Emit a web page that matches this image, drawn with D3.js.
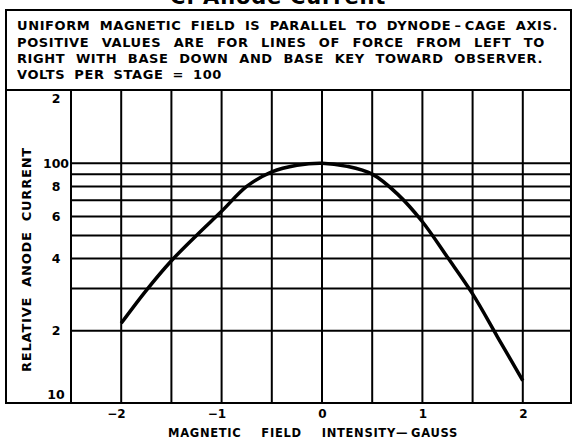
<!DOCTYPE html>
<html>
<head>
<meta charset="utf-8">
<script src="https://cdn.jsdelivr.net/npm/d3@7"></script>
<style>
  body { margin: 0; background: #fff; }
  svg { display: block; }
  text { font-family: "DejaVu Sans", sans-serif; font-weight: bold; fill: #000; }
</style>
</head>
<body>
<svg id="chart" width="572" height="439"></svg>
<script>
// field intensity (gauss) and relative anode current
const fieldValues = [-2, -1.75, -1.5, -1.25, -1, -0.75, -0.5, -0.25, 0, 0.25, 0.5, 0.75, 1, 1.25, 1.5, 1.75, 2];
const currentValues = [21.5, 29.5, 39.2, 50, 63, 80, 92, 98, 100, 97, 90, 74.5, 57, 40.5, 28.5, 18.8, 12.4];

const xTicks = [-2, -1, 0, 1, 2];
const xTickLabels = ["\u22122", "\u22121", "0", "1", "2"];
const xGrid = [-2, -1.5, -1, -0.5, 0, 0.5, 1, 1.5, 2];
const yTicks = [10, 20, 40, 60, 80, 100, 200];
const yTickLabels = ["10", "2", "4", "6", "8", "100", "2"];
const yGrid = [20, 30, 40, 50, 60, 70, 80, 90, 100];

const noteLines = [
    "UNIFORM MAGNETIC FIELD IS PARALLEL TO DYNODE\u2009\u2013\u2009CAGE AXIS.",
    "POSITIVE VALUES ARE FOR LINES OF FORCE FROM LEFT TO",
    "RIGHT WITH BASE DOWN AND BASE KEY TOWARD OBSERVER.",
    "VOLTS PER STAGE = 100"
];

const svg = d3.select("#chart");
const plotLeft = 71, plotRight = 571, plotTop = 91, plotBottom = 403;

const x = d3.scaleLinear().domain([-2.5, 2.5]).range([plotLeft, 573]);
const y = d3.scaleLog().domain([10, 200]).range([plotBottom, plotTop]);

// stretch a line of text to a width by widening the word gaps
function spread(sel, target) {
    const n = sel.node();
    const len = n.getComputedTextLength();
    const gaps = (n.textContent.match(/ /g) || []).length;
    if (gaps > 0) sel.attr("word-spacing", (target - len) / gaps);
}

// cut-off plate title at the very top
svg.append("text")
    .attr("x", 170)
    .attr("y", 4)
    .attr("font-size", 21)
    .attr("letter-spacing", 0.8)
    .text("C. Anode Current");

// grid
svg.append("g")
    .selectAll("line")
    .data(xGrid)
    .enter().append("line")
    .attr("x1", d => x(d)).attr("x2", d => x(d))
    .attr("y1", plotTop).attr("y2", plotBottom)
    .attr("stroke", "#000").attr("stroke-width", 2);

svg.append("g")
    .selectAll("line")
    .data(yGrid)
    .enter().append("line")
    .attr("x1", plotLeft).attr("x2", plotRight)
    .attr("y1", d => y(d)).attr("y2", d => y(d))
    .attr("stroke", "#000").attr("stroke-width", 2);

// frame
const frame = svg.append("g").attr("stroke", "#000").attr("stroke-width", 2).attr("fill", "none");
frame.append("rect").attr("x", 6).attr("y", 10).attr("width", plotRight - 6).attr("height", plotBottom - 10);
frame.append("line").attr("x1", 6).attr("x2", plotRight).attr("y1", plotTop - 1).attr("y2", plotTop - 1);
frame.append("line").attr("x1", plotLeft).attr("x2", plotLeft).attr("y1", plotTop - 1).attr("y2", plotBottom);

// note text in the box
noteLines.forEach((s, i) => {
    const t = svg.append("text")
        .attr("x", 17)
        .attr("y", [29.5, 46.5, 63, 79][i])
        .attr("font-size", 13)
        .attr("letter-spacing", 0.6)
        .text(s);
    spread(t, [541, 528, 526, 205][i]);
});

// axis labels
const yAxis = d3.axisLeft(y)
    .tickValues(yTicks)
    .tickSize(0)
    .tickFormat((d, i) => yTickLabels[i]);

const yg = svg.append("g")
    .attr("transform", `translate(${plotLeft - 15}, 0)`)
    .call(yAxis);
yg.select(".domain").remove();
yg.selectAll("text")
    .attr("x", 0)
    .attr("text-anchor", "middle")
    .attr("font-size", 12.5)
    .attr("font-family", null)
    .attr("dy", (d, i) => i === 0 ? "-0.35em" : (i === yTicks.length - 1 ? "0.95em" : "0.32em"));

const xAxis = d3.axisBottom(x)
    .tickValues(xTicks)
    .tickSize(0)
    .tickFormat((d, i) => xTickLabels[i]);

const xg = svg.append("g")
    .attr("transform", `translate(0, ${plotBottom})`)
    .call(xAxis);
xg.select(".domain").remove();
xg.selectAll("text")
    .attr("y", 15)
    .attr("dy", 0)
    .attr("font-size", 12)
    .attr("font-family", null)
    .attr("text-anchor", d => d < 0 ? "end" : "middle")
    .attr("dx", d => d < 0 ? 4 : 0);

const xt = svg.append("text")
    .attr("x", 168)
    .attr("y", 437)
    .attr("font-size", 11.5)
    .attr("letter-spacing", 0.7)
    .text("MAGNETIC FIELD INTENSITY\u2014\u2009GAUSS");
spread(xt, 290);

const yt = svg.append("text")
    .attr("transform", "translate(31, 372) rotate(-90)")
    .attr("font-size", 13)
    .attr("letter-spacing", 0.8)
    .text("RELATIVE ANODE CURRENT");
spread(yt, 225);

// the curve
const line = d3.line()
    .x((d, i) => x(fieldValues[i]))
    .y(d => y(d))
    .curve(d3.curveCatmullRom.alpha(0.5));

svg.append("path")
    .datum(currentValues)
    .attr("fill", "none")
    .attr("stroke", "#000")
    .attr("stroke-width", 3.5)
    .attr("stroke-linecap", "butt")
    .attr("d", line);
</script>
</body>
</html>
